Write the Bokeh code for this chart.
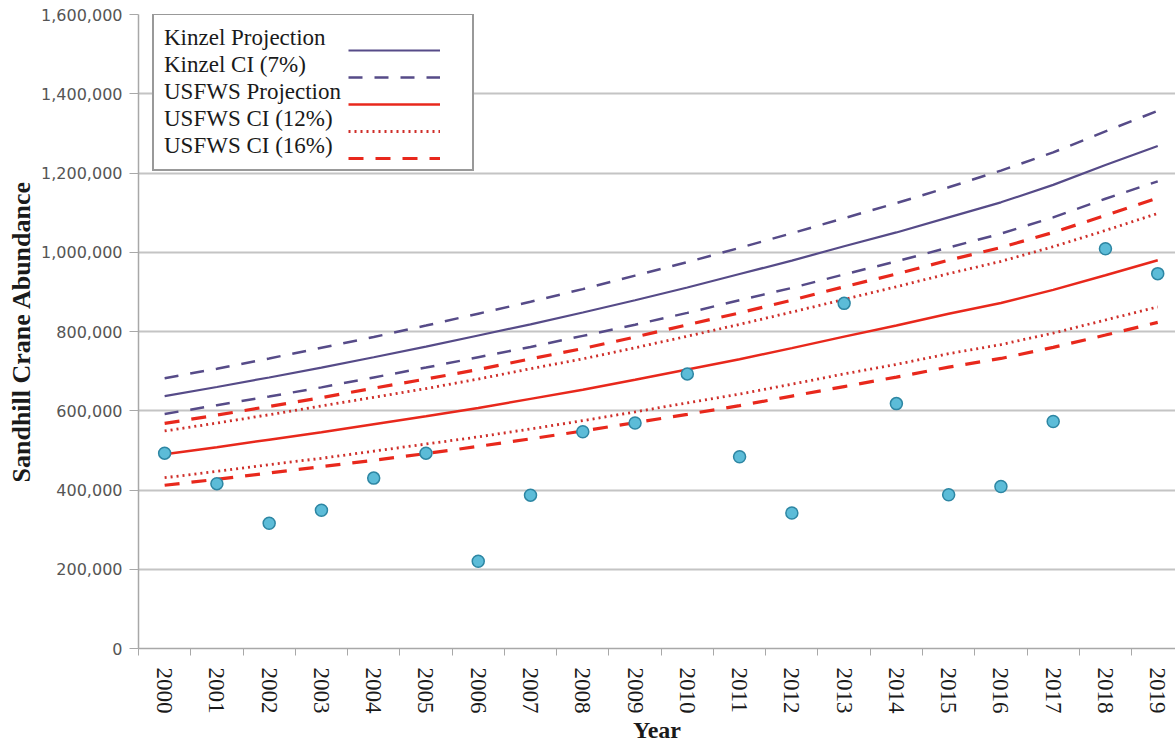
import math
from bokeh.plotting import figure
from bokeh.models import (Range1d, FixedTicker, NumeralTickFormatter, Legend, LegendItem,
                          ColumnDataSource)
from bokeh.embed import file_html
from bokeh.resources import INLINE

# ---- data ----
years = list(range(2000, 2020))
year_labels = [str(y) for y in years]

kinzel_proj = [637000, 660000, 684000, 709000, 735000, 762000, 790000, 818000, 848000, 879000,
               911000, 945000, 979000, 1015000, 1050000, 1088000, 1126000, 1170000, 1220000, 1268000]
kinzel_ci_hi = [682000, 706000, 732000, 759000, 786000, 815000, 845000, 875000, 907000, 941000,
                975000, 1011000, 1048000, 1086000, 1124000, 1164000, 1206000, 1252000, 1305000, 1357000]
kinzel_ci_lo = [592000, 614000, 636000, 659000, 684000, 709000, 735000, 761000, 789000, 817000,
                847000, 879000, 910000, 944000, 977000, 1012000, 1047000, 1088000, 1135000, 1179000]

usfws_proj = [490000, 508000, 527000, 546000, 566000, 586000, 607000, 630000, 653000, 678000,
              704000, 730000, 758000, 787000, 815000, 845000, 872000, 905000, 942000, 980000]
usfws_ci12_hi = [549000, 569000, 590000, 612000, 634000, 656000, 680000, 706000, 731000, 759000,
                 788000, 818000, 849000, 881000, 913000, 946000, 977000, 1014000, 1055000, 1098000]
usfws_ci12_lo = [431000, 447000, 464000, 480000, 498000, 516000, 534000, 554000, 575000, 597000,
                 620000, 642000, 667000, 693000, 717000, 744000, 767000, 796000, 829000, 862000]
usfws_ci16_hi = [568000, 589000, 611000, 633000, 657000, 680000, 704000, 731000, 757000, 786000,
                 817000, 847000, 879000, 913000, 945000, 980000, 1012000, 1050000, 1093000, 1137000]
usfws_ci16_lo = [412000, 427000, 443000, 459000, 475000, 492000, 510000, 529000, 549000, 570000,
                 591000, 613000, 637000, 661000, 685000, 710000, 732000, 760000, 791000, 823000]

observed = [493000, 416000, 316000, 349000, 430000, 493000, 220000, 387000, 547000, 569000,
            693000, 484000, 342000, 871000, 618000, 388000, 409000, 573000, 1009000, 946000]

legend_labels = ["Kinzel Projection", "Kinzel CI (7%)", "USFWS Projection",
                 "USFWS CI (12%)", "USFWS CI (16%)"]

# ---- styles ----
PURPLE = "#564b88"
RED = "#e8281c"
DOTRED = "#cf2f2a"
SERIF = "Liberation Serif"

p = figure(width=1175, height=746, output_backend="svg", toolbar_location=None,
           x_range=Range1d(1999.5, 2019.34), y_range=Range1d(0, 1600000),
           min_border_left=138, min_border_right=0, min_border_top=14, min_border_bottom=98)
p.outline_line_color = None
p.background_fill_color = "white"

src = ColumnDataSource(dict(x=years, kp=kinzel_proj, kh=kinzel_ci_hi, kl=kinzel_ci_lo,
                            up=usfws_proj, u12h=usfws_ci12_hi, u12l=usfws_ci12_lo,
                            u16h=usfws_ci16_hi, u16l=usfws_ci16_lo, obs=observed))

r_kp = p.line("x", "kp", source=src, line_color=PURPLE, line_width=2.2)
r_kh = p.line("x", "kh", source=src, line_color=PURPLE, line_width=2.5, line_dash="14 12")
r_kl = p.line("x", "kl", source=src, line_color=PURPLE, line_width=2.5, line_dash="14 12")
r_up = p.line("x", "up", source=src, line_color=RED, line_width=2.5)
r_12h = p.line("x", "u12h", source=src, line_color=DOTRED, line_width=2.8, line_dash="2 4")
r_12l = p.line("x", "u12l", source=src, line_color=DOTRED, line_width=2.8, line_dash="2 4")
r_16h = p.line("x", "u16h", source=src, line_color=RED, line_width=3.2, line_dash="15 12")
r_16l = p.line("x", "u16l", source=src, line_color=RED, line_width=3.2, line_dash="15 12")
p.scatter("x", "obs", source=src, size=12, fill_color="#5cbcd8", line_color="#2d86a3",
          line_width=1.5)

# ---- axes ----
yax = p.yaxis[0]
yax.ticker = FixedTicker(ticks=list(range(0, 1600001, 200000)))
yax.formatter = NumeralTickFormatter(format="0,0")
yax.axis_label = "Sandhill Crane Abundance"
yax.axis_label_text_font = SERIF
yax.axis_label_text_font_style = "bold"
yax.axis_label_text_font_size = "26px"
yax.axis_label_text_color = "#1a1a1a"
yax.axis_label_standoff = 2
yax.major_label_text_font = "DejaVu Sans"
yax.major_label_text_font_size = "16px"
yax.major_label_text_color = "#555555"
yax.major_label_standoff = 7
yax.major_tick_out = 9
yax.major_tick_in = 0
yax.minor_tick_out = 0
yax.minor_tick_in = 0
yax.major_tick_line_color = "#a8a8a8"
yax.axis_line_color = "#a8a8a8"
yax.axis_line_width = 1.5

xax = p.xaxis[0]
xax.ticker = FixedTicker(ticks=years, minor_ticks=[y - 0.5 for y in years] + [2019.5])
xax.major_label_overrides = {y: s for y, s in zip(years, year_labels)}
xax.major_label_orientation = -math.pi / 2
xax.major_label_text_font = SERIF
xax.major_label_text_font_size = "23px"
xax.major_label_text_color = "#1a1a1a"
xax.major_label_standoff = 12
xax.major_tick_out = 0
xax.major_tick_in = 0
xax.major_tick_line_color = None
xax.minor_tick_out = 7
xax.minor_tick_in = 0
xax.minor_tick_line_color = "#a8a8a8"
xax.axis_line_color = "#a8a8a8"
xax.axis_line_width = 1.5
xax.axis_label = "Year"
xax.axis_label_text_font = SERIF
xax.axis_label_text_font_style = "bold"
xax.axis_label_text_font_size = "24px"
xax.axis_label_text_color = "#1a1a1a"
xax.axis_label_standoff = 0

p.xgrid.grid_line_color = None
p.ygrid.ticker = FixedTicker(ticks=list(range(0, 1600001, 200000)))
p.ygrid.grid_line_color = "#c4c4c4"
p.ygrid.grid_line_width = 2

# ---- legend: text box (left) + glyph column (right) ----
renderers = [r_kp, r_kh, r_up, r_12h, r_16h]

common = dict(label_text_font=SERIF, label_text_font_size="23px", label_text_color="#1a1a1a",
              label_height=26, glyph_height=26, spacing=1, padding=10, margin=0)

leg_text = Legend(items=[LegendItem(label=l, renderers=[r]) for l, r in zip(legend_labels, renderers)],
                  location=(14, 477), glyph_width=0, label_standoff=0, label_width=298,
                  border_line_color="#333333", border_line_width=2,
                  background_fill_color="white", background_fill_alpha=1.0, **common)
leg_glyph = Legend(items=[LegendItem(label=" ", renderers=[r]) for r in renderers],
                   location=(210, 477), glyph_width=92, label_standoff=0, label_width=0,
                   border_line_color=None, background_fill_alpha=0.0, **common)
p.add_layout(leg_text, "center")
p.add_layout(leg_glyph, "center")

open("out.html", "w").write(file_html(p, INLINE))
